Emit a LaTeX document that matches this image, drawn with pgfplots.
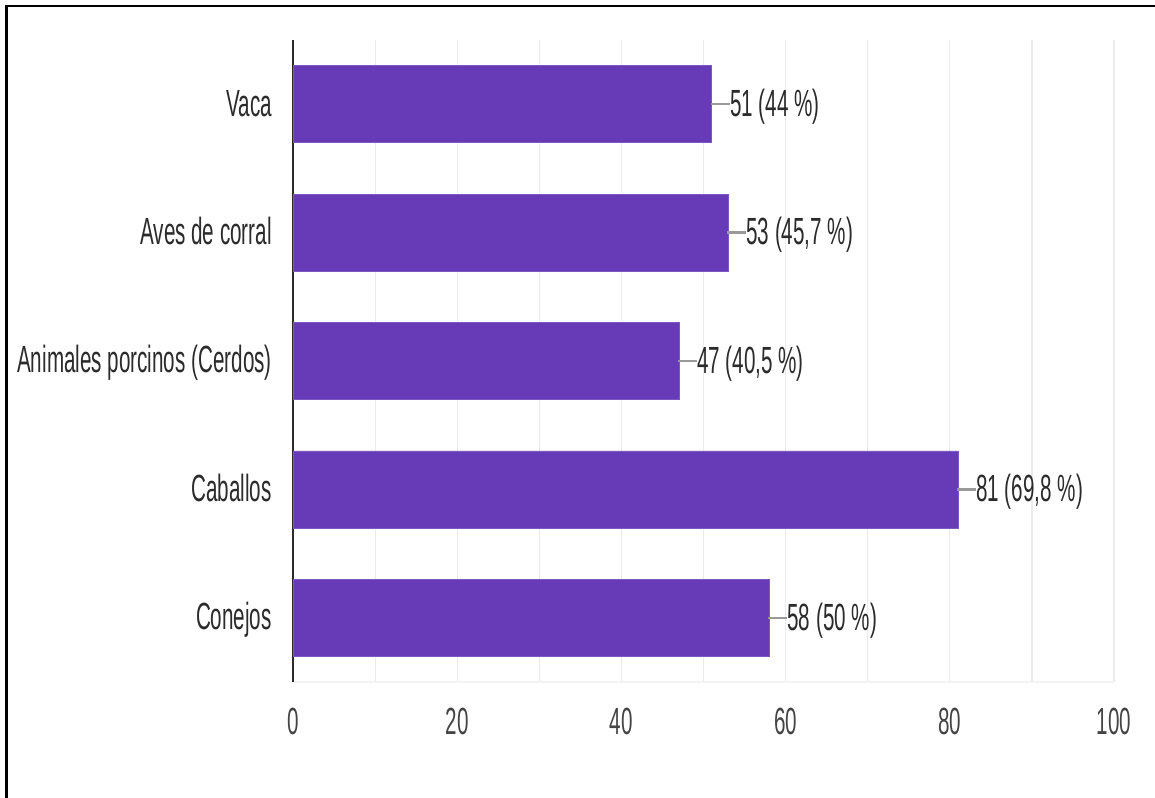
\documentclass[border=0pt]{standalone}
\usepackage{pgfplots}
\pgfplotsset{compat=1.18}
\usepackage{fontspec}
\setmainfont{Liberation Sans}[FakeStretch=0.545]
\definecolor{barc}{HTML}{673AB7}
\definecolor{txt}{HTML}{2B2B2B}
\definecolor{tick}{HTML}{444444}
\definecolor{gridc}{HTML}{EBEBEB}
\definecolor{lead}{HTML}{999999}
\begin{document}
\begin{tikzpicture}[x=1bp,y=1bp]
\useasboundingbox (0,0) rectangle (1155,798);
\fill[white] (0,0) rectangle (1155,798);
\draw[black, line width=2.5bp] (6.5,0) -- (6.5,792) -- (1155,792);
\begin{axis}[
  at={(293bp,116bp)}, anchor=south west,
  scale only axis, width=821bp, height=642bp,
  xmin=0, xmax=100, ymin=-0.5, ymax=4.5,
  y dir=reverse,
  xbar, bar width=77bp,
  xtick={0,20,...,100}, minor xtick={10,30,...,90},
  xmajorgrids, xminorgrids,
  major grid style={gridc, line width=1.2bp},
  minor grid style={gridc, line width=1.2bp},
  major tick length=0pt, minor tick length=0pt,
  ytick={0,1,2,3,4},
  yticklabels={Vaca, Aves de corral, Animales porcinos (Cerdos), Caballos, Conejos},
  axis x line*=bottom, axis y line*=left,
  x axis line style={draw=gridc!60, line width=2bp, -},
  y axis line style={draw=txt, line width=1.8bp, -},
  /pgf/number format/assume math mode=true,
  font=\fontsize{38}{44}\selectfont,
  xticklabel style={anchor=north, inner sep=0pt, yshift=-26bp, text=tick},
  yticklabel style={anchor=base east, inner sep=0pt, xshift=-21bp, yshift=-12bp, text=txt},
  point meta=explicit symbolic,
  nodes near coords={\textcolor{lead}{\rule[11.3bp]{19bp}{2.2bp}}\pgfplotspointmeta},
  every node near coord/.style={anchor=base west, inner sep=0pt, xshift=-1bp, yshift=-12.4bp, text=txt, font=\fontsize{38}{44}\selectfont},
  clip=false,
]
\addplot[fill=barc, draw=barc!85!white, line width=0.6bp] coordinates {
  (51,0) [51 (44 \%)]
  (53,1) [53 (45,7 \%)]
  (47,2) [47 (40,5 \%)]
  (81,3) [81 (69,8 \%)]
  (58,4) [58 (50 \%)]
};
\end{axis}
\end{tikzpicture}
\end{document}
